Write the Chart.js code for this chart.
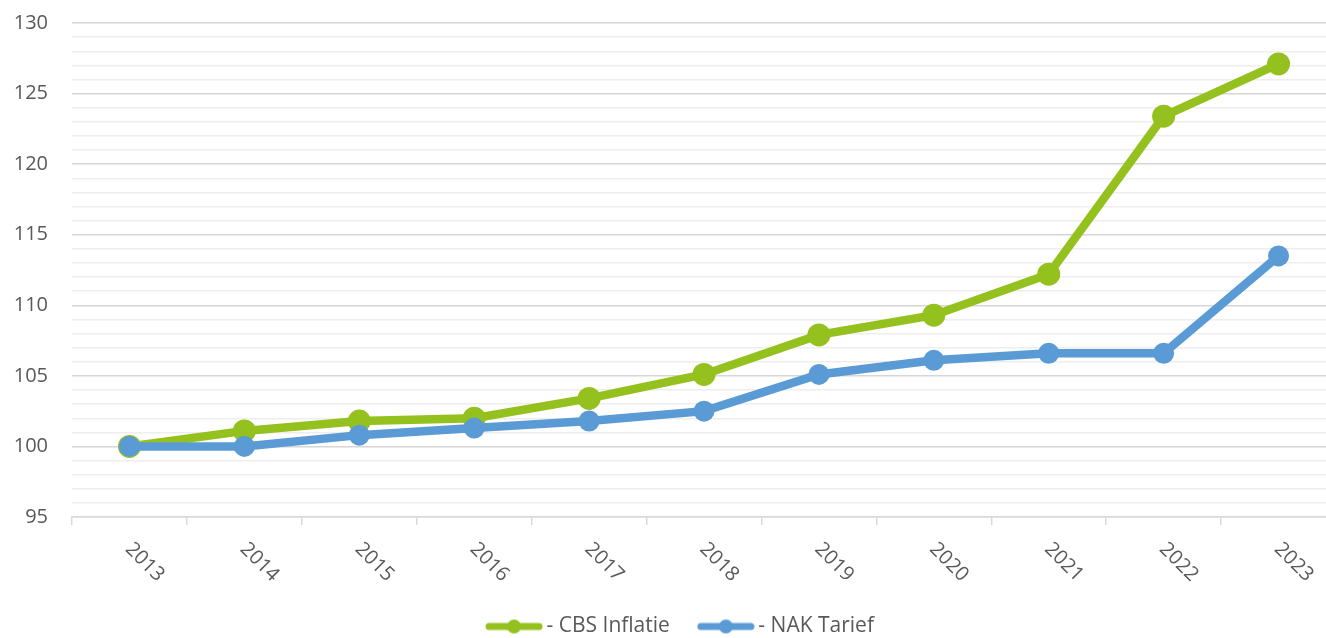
<!DOCTYPE html>
<html>
<head>
<meta charset="utf-8">
<script src="https://cdn.jsdelivr.net/npm/chart.js@4"></script>
<style>
  html, body { margin: 0; padding: 0; background: #fff; width: 1326px; height: 638px; overflow: hidden; }
  #clip { position: relative; width: 1326px; height: 638px; overflow: hidden; }
  #wrap { position: absolute; left: 0; top: 0; width: 1357px; height: 647px; }
</style>
</head>
<body>
<div id="clip"><div id="wrap"><canvas id="chart"></canvas></div></div>
<script>
// data
var years = ['2013', '2014', '2015', '2016', '2017', '2018', '2019', '2020', '2021', '2022', '2023'];
var cbsInflatie = [100, 101.1, 101.8, 102.0, 103.4, 105.1, 107.9, 109.3, 112.2, 123.4, 127.1];
var nakTarief = [100, 100, 100.8, 101.3, 101.8, 102.5, 105.1, 106.1, 106.6, 106.6, 113.5];
var seriesNames = ['- CBS Inflatie', '- NAK Tarief'];

var green = '#95c11f';
var blue = '#5b9bd5';
var textColor = '#595959';

Chart.defaults.font.family = '"Open Sans", sans-serif';
Chart.defaults.font.size = 20;
Chart.defaults.color = textColor;

// little line+dot picture for the legend
function legendMark(color) {
    var c = document.createElement('canvas');
    c.width = 58; c.height = 18;
    var g = c.getContext('2d');
    g.strokeStyle = color;
    g.lineWidth = 7;
    g.lineCap = 'round';
    g.beginPath(); g.moveTo(4, 9); g.lineTo(54, 9); g.stroke();
    g.fillStyle = color;
    g.beginPath(); g.arc(29, 9, 7, 0, Math.PI * 2); g.fill();
    return c;
}
var marks = [legendMark(green), legendMark(blue)];

// x labels slanted downwards (clockwise)
var slantLabels = {
    id: 'slantLabels',
    afterDraw: function(chart) {
        var x = chart.scales.x;
        var ctx = chart.ctx;
        ctx.save();
        ctx.font = '20px "Open Sans"';
        ctx.fillStyle = textColor;
        ctx.textAlign = 'left';
        ctx.textBaseline = 'middle';
        for (var i = 0; i < years.length; i++) {
            var px = x.getPixelForValue(i);
            ctx.save();
            ctx.translate(px - 1, x.top + 29);
            ctx.rotate(Math.PI / 4);
            ctx.fillText(years[i], 0, 0);
            ctx.restore();
        }
        ctx.restore();
    }
};

var ctx = document.getElementById('chart').getContext('2d');
var chart = new Chart(ctx, {
    type: 'line',
    data: {
        labels: years,
        datasets: [{
            label: seriesNames[0],
            data: cbsInflatie,
            borderColor: green,
            backgroundColor: green,
            borderWidth: 8.5,
            pointRadius: 11.5,
            pointBorderWidth: 0,
            pointBackgroundColor: green,
            order: 2
        }, {
            label: seriesNames[1],
            data: nakTarief,
            borderColor: blue,
            backgroundColor: blue,
            borderWidth: 8.5,
            pointRadius: 10.5,
            pointBorderWidth: 0,
            pointBackgroundColor: blue,
            order: 1
        }]
    },
    options: {
        responsive: true,
        maintainAspectRatio: false,
        animation: false,
        layout: { autoPadding: false, padding: { top: 0, left: 13, right: 4, bottom: 0 } },
        plugins: {
            tooltip: { enabled: false },
            legend: {
                position: 'bottom',
                labels: {
                    usePointStyle: true,
                    pointStyleWidth: 44,
                    boxHeight: 18,
                    padding: 34,
                    color: textColor,
                    font: { size: 21 },
                    generateLabels: function(chart) {
                        return chart.data.datasets.map(function(ds, i) {
                            return {
                                text: ds.label,
                                pointStyle: marks[i],
                                fillStyle: ds.borderColor,
                                strokeStyle: ds.borderColor,
                                lineWidth: 0,
                                fontColor: textColor,
                                datasetIndex: i
                            };
                        });
                    }
                }
            }
        },
        scales: {
            x: {
                offset: true,
                grid: {
                    offset: true,
                    drawOnChartArea: false,
                    drawTicks: true,
                    tickLength: 8,
                    color: '#d9d9d9',
                    lineWidth: 1.5
                },
                border: { display: true, color: '#d9d9d9', width: 1.5 },
                ticks: { display: false },
                afterFit: function(scale) { scale.height = 65; }
            },
            y: {
                min: 95,
                max: 130,
                border: { display: false },
                afterFit: function(scale) {
                    scale.width = 59;
                    scale.paddingTop = 23;
                },
                grid: {
                    drawTicks: false,
                    lineWidth: 1.4,
                    color: function(c) {
                        return c.tick && c.tick.value % 5 === 0 ? '#d6d6d6' : '#eeeeee';
                    }
                },
                ticks: {
                    stepSize: 1,
                    autoSkip: false,
                    padding: 24,
                    color: textColor,
                    font: { size: 20 },
                    callback: function(v) { return v % 5 === 0 ? v : ''; }
                }
            },
            // empty right-hand spacer, only there to centre the legend like the original
            spacer: {
                type: 'linear',
                position: 'right',
                grid: { display: false, drawTicks: false },
                border: { display: false },
                ticks: { display: false },
                afterFit: function(scale) {
                    scale.width = 17;
                    scale.paddingTop = 0;
                    scale.paddingBottom = 0;
                }
            }
        }
    },
    plugins: [slantLabels]
});
</script>
</body>
</html>
